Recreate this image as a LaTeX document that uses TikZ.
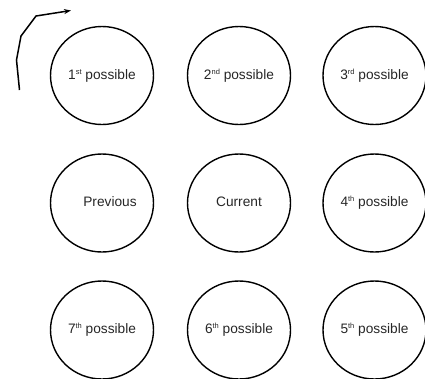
\documentclass[tikz,border=0pt]{standalone}
\usepackage{fontspec}
\setmainfont{Liberation Sans}
\usetikzlibrary{shapes.geometric,arrows.meta}
\definecolor{txt}{HTML}{262626}
\newcommand{\ordsup}[1]{\raisebox{4.8pt}{\fontsize{7.5}{8}\selectfont #1}}
\tikzset{
  cell/.style={ellipse, draw=black, line width=1.4pt, minimum width=103pt, minimum height=98pt,
    inner sep=0pt, font=\fontsize{13.7}{15}\selectfont, text=txt},
  turn/.style={line width=1.5pt, -{Stealth[length=7pt,width=5pt]}}
}
\begin{document}
\begin{tikzpicture}[x=1pt,y=-1pt]
\useasboundingbox (0,0) rectangle (425,378);
\node[cell] (p1) at (102,75.5) {\raisebox{2pt}{1\ordsup{st} possible}};
\node[cell] (p2) at (239,75.5) {\raisebox{2pt}{2\ordsup{nd} possible}};
\node[cell] (p3) at (374.5,75.5) {\raisebox{2pt}{3\ordsup{rd} possible}};
\node[cell] (prev) at (102,203) {\raisebox{2pt}{\hspace*{16pt}Previous}};
\node[cell] (cur) at (239,203) {\raisebox{2pt}{Current}};
\node[cell] (p4) at (374.5,203) {\raisebox{2pt}{4\ordsup{th} possible}};
\node[cell] (p7) at (102,330) {\raisebox{1pt}{7\ordsup{th} possible}};
\node[cell] (p6) at (239,330) {\raisebox{1pt}{6\ordsup{th} possible}};
\node[cell] (p5) at (374.5,330) {\raisebox{1pt}{5\ordsup{th} possible}};
\coordinate (a0) at (19.5,90);
\coordinate (a1) at (16.5,60);
\coordinate (a2) at (21,36);
\coordinate (a3) at (36,16);
\coordinate (a4) at (71,10.5);
\draw[turn] (a0) -- (a1) -- (a2) -- (a3) -- (a4);
\end{tikzpicture}
\end{document}
